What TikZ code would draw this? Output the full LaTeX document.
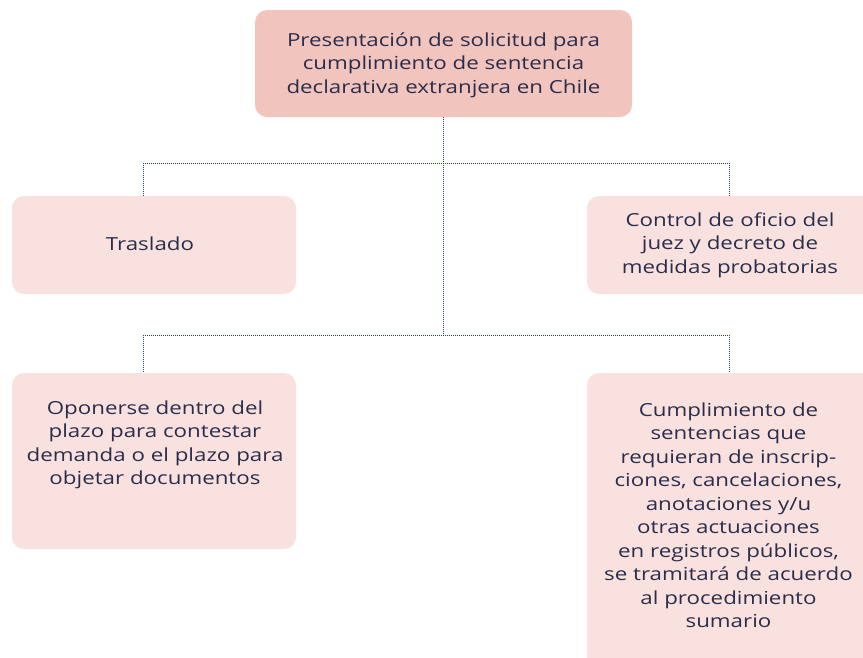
\documentclass[tikz,border=0pt]{standalone}
\usepackage{fontspec}
\setmainfont{Open Sans}[FakeStretch=1.24]
\definecolor{topfill}{HTML}{F2C4BE}
\definecolor{boxfill}{HTML}{F9E1DF}
\definecolor{txt}{HTML}{2B2D4A}
\definecolor{lnk}{HTML}{1F4382}
\begin{document}
\begin{tikzpicture}[x=1pt,y=-1pt,
  box/.style={fill=#1,rounded corners=12pt,inner sep=0pt},
  lbl/.style={text=txt,align=center,font=\fontsize{18}{23.5}\selectfont,inner sep=0pt},
  conn/.style={draw=lnk,line width=1pt,dash pattern=on 1pt off 1pt}]
\useasboundingbox (0,0) rectangle (863,657);
% boxes
\node[box=topfill,minimum width=377pt,minimum height=107pt] (top) at (443.5,63.5) {};
\node[box=boxfill,minimum width=284pt,minimum height=98pt] (tras) at (154,245) {};
\node[box=boxfill,minimum width=288pt,minimum height=98pt] (ctrl) at (731,245) {};
\node[box=boxfill,minimum width=284pt,minimum height=176pt] (opon) at (154,461) {};
\node[box=boxfill,minimum width=288pt,minimum height=300pt] (cump) at (731,523) {};
% texts
\node[lbl] (ttop) at (443.5,65) {Presentación de solicitud para\\cumplimiento de sentencia\\declarativa extranjera en Chile};
\node[lbl] (ttras) at (150,244) {Traslado};
\node[lbl] (tctrl) at (730,245) {Control de oficio del\\juez y decreto de\\medidas probatorias};
\node[lbl] (topon) at (155,445) {Oponerse dentro del\\plazo para contestar\\demanda o el plazo para\\objetar documentos};
\node[lbl] (tcump) at (728.5,515) {Cumplimiento de\\sentencias que\\requieran de inscrip-\\ciones, cancelaciones,\\anotaciones y/u\\otras actuaciones\\en registros públicos,\\se tramitará de acuerdo\\al procedimiento\\sumario};
% connectors
\coordinate (j1) at (443,163);
\coordinate (j2) at (443,335);
\coordinate (l1) at (143,163);
\coordinate (r1) at (729,163);
\coordinate (l2) at (143,335);
\coordinate (r2) at (729,335);
\draw[conn] (top.south -| j1) -- (j1) -- (j2);
\draw[conn] (l1) -- (r1);
\draw[conn] (l1) -- (l1 |- tras.north);
\draw[conn] (r1) -- (r1 |- ctrl.north);
\draw[conn] (l2) -- (r2);
\draw[conn] (l2) -- (l2 |- opon.north);
\draw[conn] (r2) -- (r2 |- cump.north);
\end{tikzpicture}
\end{document}
